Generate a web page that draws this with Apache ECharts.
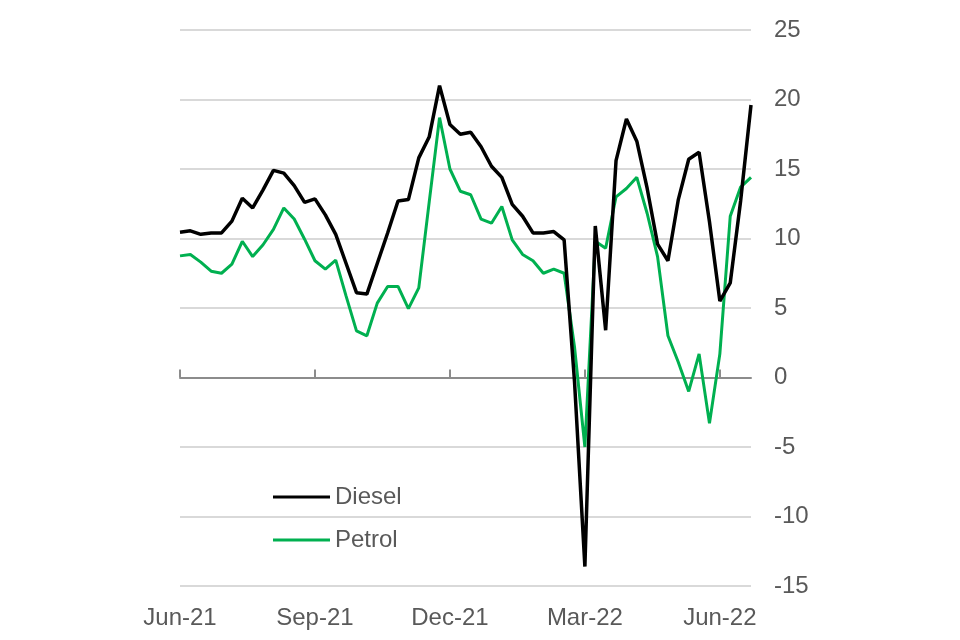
<!DOCTYPE html>
<html>
<head>
<meta charset="utf-8">
<script src="https://cdn.jsdelivr.net/npm/echarts@6/dist/echarts.min.js"></script>
<style>
  html, body { margin: 0; padding: 0; background: #fff; }
  #chart { width: 960px; height: 640px; }
</style>
</head>
<body>
<div id="chart"></div>
<script>
// weekly observations, Jun-21 .. Jun-22
const weeks = [
  '2021-06-07', '2021-06-14', '2021-06-21', '2021-06-28', '2021-07-05', '2021-07-12', '2021-07-19',
  '2021-07-26', '2021-08-02', '2021-08-09', '2021-08-16', '2021-08-23', '2021-08-30', '2021-09-06',
  '2021-09-13', '2021-09-20', '2021-09-27', '2021-10-04', '2021-10-11', '2021-10-18', '2021-10-25',
  '2021-11-01', '2021-11-08', '2021-11-15', '2021-11-22', '2021-11-29', '2021-12-06', '2021-12-13',
  '2021-12-20', '2021-12-27', '2022-01-03', '2022-01-10', '2022-01-17', '2022-01-24', '2022-01-31',
  '2022-02-07', '2022-02-14', '2022-02-21', '2022-02-28', '2022-03-07', '2022-03-14', '2022-03-21',
  '2022-03-28', '2022-04-04', '2022-04-11', '2022-04-18', '2022-04-25', '2022-05-02', '2022-05-09',
  '2022-05-16', '2022-05-23', '2022-05-30', '2022-06-06', '2022-06-13', '2022-06-20', '2022-06-27'
]

const diesel = [
  10.45, 10.55, 10.3, 10.4, 10.4, 11.25, 12.9, 12.2, 13.5, 14.9,
  14.7, 13.8, 12.6, 12.85, 11.7, 10.3, 8.2, 6.1, 6.0, 8.2,
  10.4, 12.7, 12.8, 15.8, 17.3, 21.0, 18.2, 17.5, 17.65, 16.6,
  15.2, 14.4, 12.45, 11.6, 10.4, 10.4, 10.5, 9.9, -0.3, -13.6,
  10.9, 3.4, 15.6, 18.6, 17.0, 13.6, 9.6, 8.4, 12.8, 15.7,
  16.2, 11.2, 5.5, 6.8, 12.7, 19.6
]

const petrol = [
  8.75, 8.85, 8.3, 7.65, 7.5, 8.15, 9.8, 8.7, 9.55, 10.65,
  12.2, 11.4, 9.95, 8.4, 7.8, 8.45, 5.85, 3.35, 3.0, 5.35,
  6.55, 6.55, 4.95, 6.45, 12.6, 18.7, 15.0, 13.4, 13.15, 11.4,
  11.1, 12.3, 9.9, 8.85, 8.4, 7.5, 7.8, 7.5, 2.2, -5.0,
  9.8, 9.3, 13.0, 13.6, 14.4, 11.8, 8.7, 3.0, 1.1, -1.0,
  1.7, -3.3, 1.7, 11.6, 13.7, 14.4
]

const tickLabels = ['Jun-21', 'Sep-21', 'Dec-21', 'Mar-22', 'Jun-22']
const tickStep = 13

const textColor = '#595959'
const font = 'Liberation Sans, Arial, sans-serif'

const chart = echarts.init(document.getElementById('chart'))
chart.setOption({
  animation: false,
  color: ['#000000', '#00B050'],
  grid: {
    left: 180,
    right: 209,
    top: 30,
    bottom: 54
  },
  legend: {
    orient: 'vertical',
    left: 268,
    top: 480,
    icon: 'rect',
    itemWidth: 57,
    itemHeight: 3,
    itemGap: 19,
    textStyle: { color: textColor, fontSize: 24, lineHeight: 24, fontFamily: font },
    data: ['Diesel', 'Petrol']
  },
  xAxis: [{
    // zero line with the quarterly ticks
    type: 'category',
    data: weeks,
    boundaryGap: false,
    axisLine: { onZero: true, lineStyle: { color: '#8c8c8c', width: 2 } },
    axisTick: { inside: true, length: 8, interval: tickStep - 1, lineStyle: { color: '#8c8c8c', width: 2 } },
    axisLabel: { show: false },
    splitLine: { show: false }
  }, {
    // labels sit at the bottom of the plot
    type: 'category',
    data: weeks,
    position: 'bottom',
    boundaryGap: false,
    axisLine: { show: false, onZero: false },
    axisTick: { show: false },
    axisLabel: {
      interval: tickStep - 1,
      margin: 20,
      color: textColor,
      fontSize: 24,
      fontFamily: font,
      formatter: (v, i) => tickLabels[i / tickStep] || ''
    },
    splitLine: { show: false }
  }],
  yAxis: {
    type: 'value',
    position: 'right',
    min: -15,
    max: 25,
    interval: 5,
    axisLine: { show: false },
    axisTick: { show: false },
    axisLabel: { margin: 23, color: textColor, fontSize: 24, fontFamily: font },
    splitLine: { lineStyle: { color: '#d9d9d9', width: 2 } }
  },
  series: [{
    name: 'Diesel',
    type: 'line',
    data: diesel,
    symbol: 'none',
    lineStyle: { width: 3.5 },
    z: 3
  }, {
    name: 'Petrol',
    type: 'line',
    data: petrol,
    symbol: 'none',
    lineStyle: { width: 3 },
    z: 2
  }]
})
</script>
</body>
</html>
